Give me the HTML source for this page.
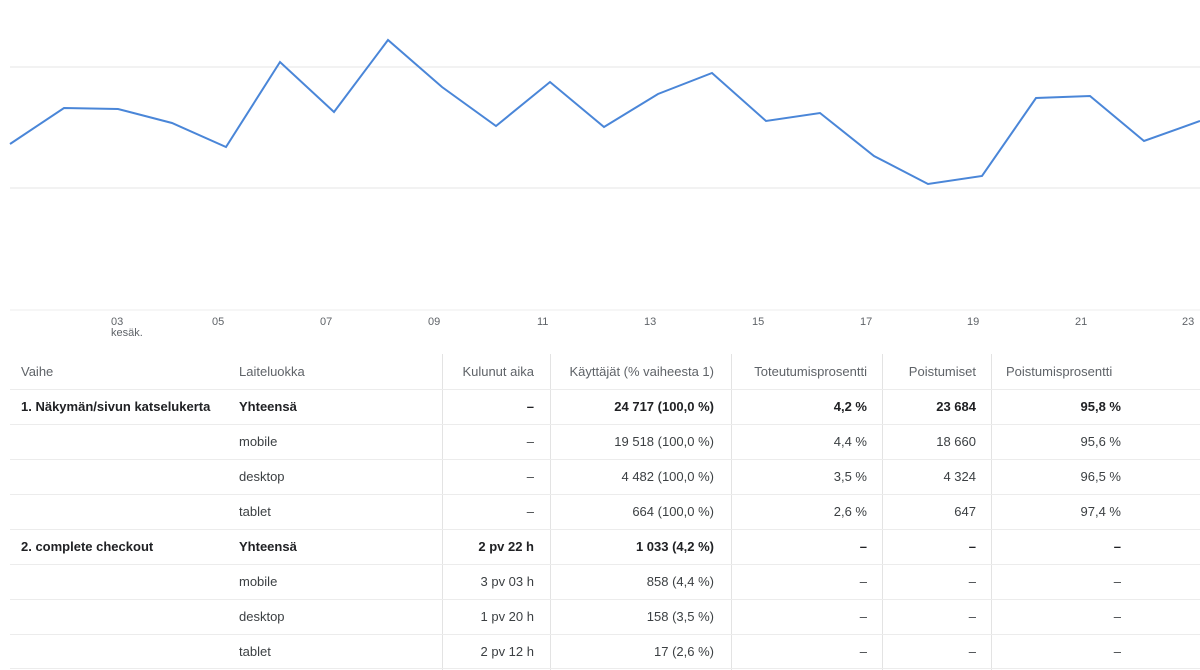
<!DOCTYPE html>
<html><head><meta charset="utf-8"><style>
body{margin:0;width:1200px;height:670px;background:#fff;overflow:hidden;font-family:"Liberation Sans",sans-serif;position:relative}
.t{position:absolute;font-size:13px;color:#3c4043;white-space:nowrap}
.b{font-weight:bold;color:#202124}
.r{text-align:right}
.ax{position:absolute;font-size:11px;color:#5f6368;top:317px;line-height:11px}
.hl{position:absolute;left:10px;width:1190px;height:1px;background:#ececec}
.vl{position:absolute;top:354px;height:316px;width:1px;background:#e3e3e3}
</style></head><body>
<svg width="1200" height="320" style="position:absolute;left:0;top:0">
<line x1="10" y1="67" x2="1200" y2="67" stroke="#e6e6e6"/>
<line x1="10" y1="188" x2="1200" y2="188" stroke="#e6e6e6"/>
<line x1="10" y1="310" x2="1200" y2="310" stroke="#eeeeee"/>
<polyline fill="none" stroke="#4a86d8" stroke-width="2" points="10,144 64,108 118,109 172,123 226,147 280,62 334,112 388,40 442,87 496,126 550,82 604,127 658,94 712,73 766,121 820,113 874,156 928,184 982,176 1036,98 1090,96 1144,141 1200,121"/>
</svg>
<div class="ax" style="left:111px">03<br>kesäk.</div>
<div class="ax" style="left:212px">05</div><div class="ax" style="left:320px">07</div><div class="ax" style="left:428px">09</div><div class="ax" style="left:537px">11</div><div class="ax" style="left:644px">13</div><div class="ax" style="left:752px">15</div><div class="ax" style="left:860px">17</div><div class="ax" style="left:967px">19</div><div class="ax" style="left:1075px">21</div><div class="ax" style="left:1182px">23</div>
<div class="vl" style="left:442px"></div><div class="vl" style="left:550px"></div><div class="vl" style="left:731px"></div><div class="vl" style="left:882px"></div><div class="vl" style="left:991px"></div>
<div class="hl" style="top:389px"></div><div class="hl" style="top:424px"></div><div class="hl" style="top:459px"></div><div class="hl" style="top:494px"></div><div class="hl" style="top:529px"></div><div class="hl" style="top:564px"></div><div class="hl" style="top:599px"></div><div class="hl" style="top:634px"></div><div class="hl" style="top:668px"></div>
<div class="t" style="left:21px;top:364px;color:#5f6368">Vaihe</div>
<div class="t" style="left:239px;top:364px;color:#5f6368">Laiteluokka</div>
<div class="t r" style="right:666px;top:364px;color:#5f6368">Kulunut aika</div>
<div class="t r" style="right:486px;top:364px;color:#5f6368">Käyttäjät (% vaiheesta 1)</div>
<div class="t r" style="right:333px;top:364px;color:#5f6368">Toteutumisprosentti</div>
<div class="t r" style="right:224px;top:364px;color:#5f6368">Poistumiset</div>
<div class="t" style="left:1006px;top:364px;color:#5f6368">Poistumisprosentti</div>
<div id="rows"></div>
<script>
var R=[["1. Näkymän/sivun katselukerta","Yhteensä","–","24 717 (100,0 %)","4,2 %","23 684","95,8 %",1],
["","mobile","–","19 518 (100,0 %)","4,4 %","18 660","95,6 %",0],
["","desktop","–","4 482 (100,0 %)","3,5 %","4 324","96,5 %",0],
["","tablet","–","664 (100,0 %)","2,6 %","647","97,4 %",0],
["2. complete checkout","Yhteensä","2 pv 22 h","1 033 (4,2 %)","–","–","–",1],
["","mobile","3 pv 03 h","858 (4,4 %)","–","–","–",0],
["","desktop","1 pv 20 h","158 (3,5 %)","–","–","–",0],
["","tablet","2 pv 12 h","17 (2,6 %)","–","–","–",0]];
var h="";R.forEach(function(r,i){var y=399+i*35,c=r[7]?"t b":"t";
h+='<div class="t b" style="left:21px;top:'+y+'px">'+r[0]+'</div>';
h+='<div class="'+c+'" style="left:239px;top:'+y+'px">'+r[1]+'</div>';
var rs=[666,486,333,224,79];for(var k=0;k<5;k++)h+='<div class="'+c+' r" style="right:'+rs[k]+'px;top:'+y+'px">'+r[2+k]+'</div>';});
document.getElementById("rows").innerHTML=h;
</script>
</body></html>
